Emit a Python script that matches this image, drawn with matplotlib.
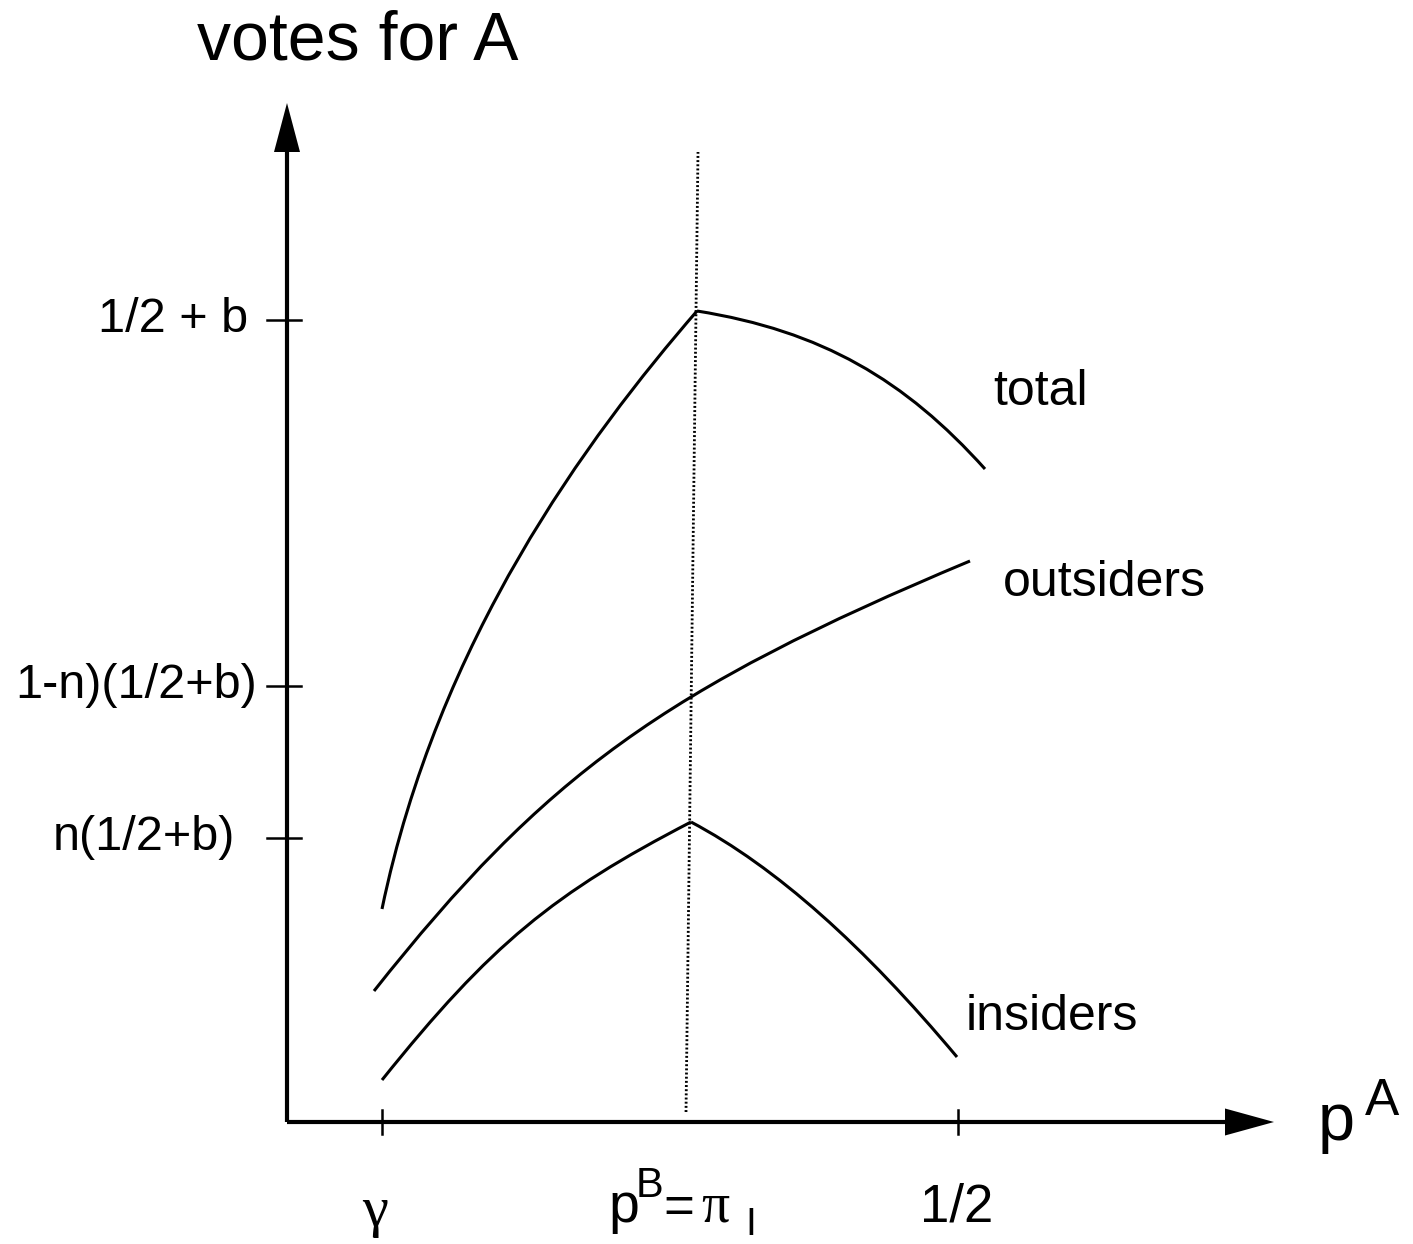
import numpy as np
import matplotlib
matplotlib.use("Agg")
import matplotlib.pyplot as plt
from matplotlib.path import Path
from matplotlib.patches import PathPatch

plt.rcParams['font.family'] = ['Liberation Sans', 'DejaVu Sans']

# each branch is a cubic Bezier: start, two control points, end
# (x = p^A position, y = votes for A, drawing units)
total_left_x = [95, 151, 300, 410]
total_left_y = [213, 482, 684, 811]
total_right_x = [410, 535, 618, 698]
total_right_y = [811, 791, 742, 653]

outsiders_x = [87, 258, 377, 683]
outsiders_y = [131, 347, 433, 561]

insiders_left_x = [95, 204, 267, 404]
insiders_left_y = [42, 178, 229, 300]
insiders_right_x = [404, 489, 577, 670]
insiders_right_y = [300, 255, 176, 65]

# p^B = pi_I marker (slightly tilted, as drawn)
pb_x = [399, 411]
pb_y = [10, 970]

ytick_pos = [802, 436, 284]
ytick_labels = ['1/2 + b', '1-n)(1/2+b)', 'n(1/2+b)']
ytick_right = [-39, -30, -52]
xtick_pos = [95, 671]

curve_labels = ['total', 'outsiders', 'insiders']
curve_label_pos = [(706, 730), (716, 539), (679, 105)]


def bezier(ax, xs, ys):
    verts = list(zip(xs, ys))
    codes = [Path.MOVETO, Path.CURVE4, Path.CURVE4, Path.CURVE4]
    ax.add_patch(PathPatch(Path(verts, codes), facecolor='none',
                           edgecolor='black', lw=2.2, capstyle='butt'))


fig = plt.figure(figsize=(14.13, 12.44), dpi=100)
ax = fig.add_axes([0, 0, 1, 1])
ax.set_xlim(-287, 1126)
ax.set_ylim(-122, 1122)
ax.axis('off')

# axes with arrow heads
y_tip, y_base, x_tip, x_base = 1019, 970, 987, 938
ax.plot([0, 0], [0, y_base], color='black', lw=3, solid_capstyle='butt')
ax.plot([0, x_base], [0, 0], color='black', lw=3, solid_capstyle='butt')
ax.fill([-13, 13, 0], [y_base, y_base, y_tip], color='black', lw=0)
ax.fill([x_base, x_base, x_tip], [-13.5, 13.5, 0], color='black', lw=0)

for yt in ytick_pos:
    ax.plot([-20, 14], [yt, yt], color='black', lw=1.8)
for xt in xtick_pos:
    ax.plot([xt, xt], [-12, 12], color='black', lw=1.8)

ax.plot(pb_x, pb_y, color='black', lw=2.0, linestyle=(0, (0.7, 0.8)))

bezier(ax, total_left_x, total_left_y)
bezier(ax, total_right_x, total_right_y)
bezier(ax, outsiders_x, outsiders_y)
bezier(ax, insiders_left_x, insiders_left_y)
bezier(ax, insiders_right_x, insiders_right_y)

for lab, (lx, ly) in zip(curve_labels, curve_label_pos):
    ax.text(lx, ly, lab, fontsize=36, ha='left', va='center')

for lab, yt, xr in zip(ytick_labels, ytick_pos, ytick_right):
    ax.text(xr, yt, lab, fontsize=35, ha='right', va='center')

ax.text(-90, 1062, 'votes for A', fontsize=49, ha='left', va='baseline')

# x-axis labels
greek = ['Liberation Serif', 'DejaVu Serif']
ax.text(88, -90, '\u03b3', fontsize=42, family=greek, ha='center', va='center')
ax.text(633, -86, '1/2', fontsize=38, ha='left', va='center')
ax.text(321, -100, 'p', fontsize=40, ha='left', va='baseline')
ax.text(349, -75, 'B', fontsize=30, ha='left', va='baseline')
ax.text(376, -87, '=', fontsize=38, ha='left', va='center')
ax.text(414, -100, '\u03c0', fontsize=40, family=greek, ha='left', va='baseline')
ax.text(458, -121, 'I', fontsize=28, ha='left', va='bottom')

ax.text(1031, -18, 'p', fontsize=48, ha='left', va='baseline')
ax.text(1078, 7, 'A', fontsize=37, ha='left', va='baseline')

fig.savefig('out.png', dpi=100)
